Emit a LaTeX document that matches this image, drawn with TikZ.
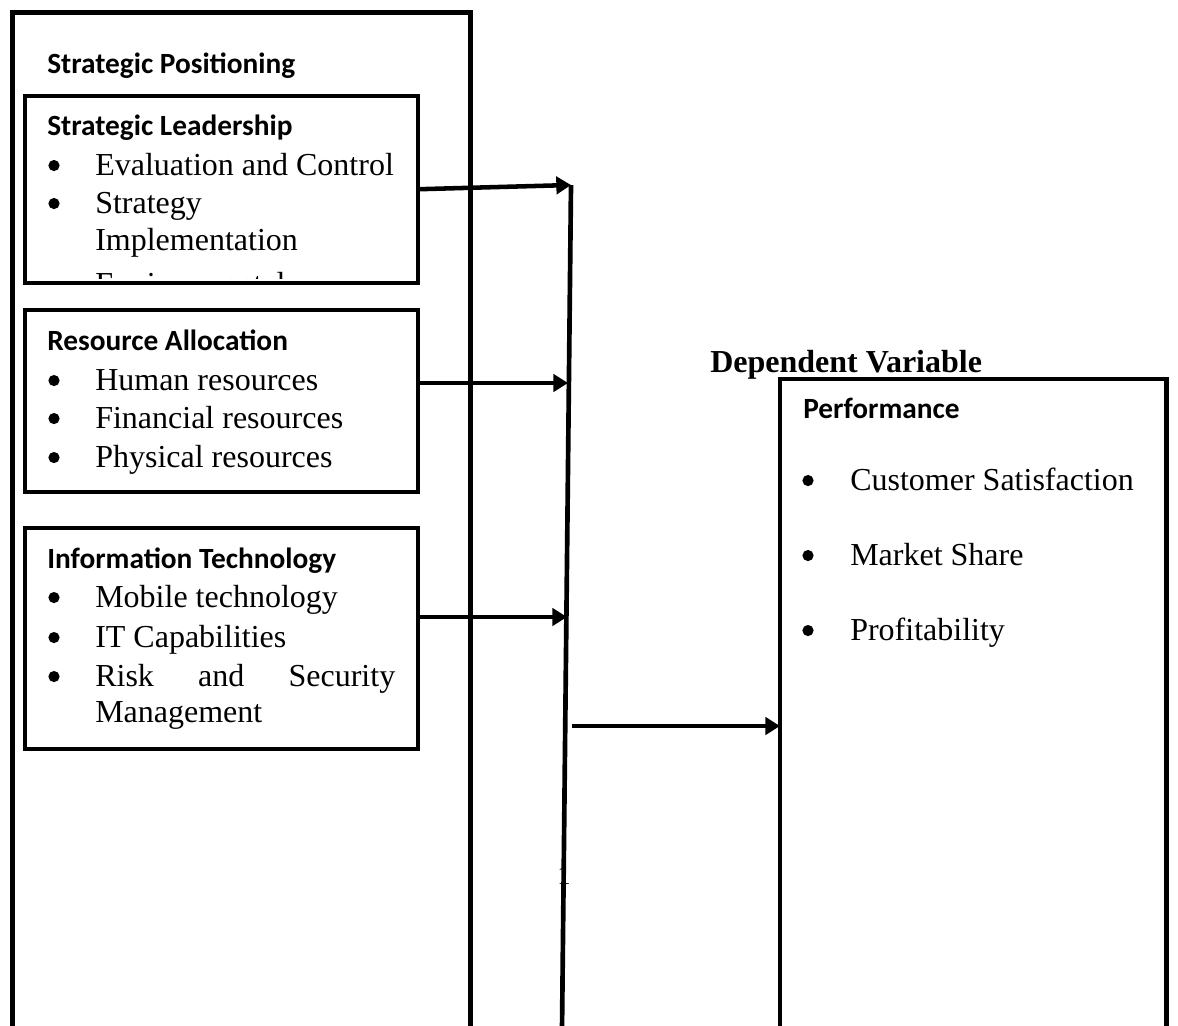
\documentclass[tikz,border=0pt]{standalone}
\usepackage{fontspec}
\setmainfont{Liberation Serif}
\newfontfamily\calibri{Carlito}
\usetikzlibrary{arrows.meta}

\tikzset{
  cadre/.style={draw, line width=3pt, outer sep=0pt, inner sep=0pt, anchor=north west, minimum width=294.75pt},
  titre/.style={anchor=base west, inner sep=0pt, font=\calibri\bfseries\fontsize{22}{26}\selectfont},
  item/.style={anchor=base west, inner sep=0pt, font=\fontsize{24}{28}\selectfont},
  puce/.style={circle, fill, inner sep=0pt, minimum size=8.4pt, yshift=7.1pt},
  fleche/.style={-{Triangle[length=11pt,width=13pt]}, line width=3.4pt}
}

\begin{document}
\begin{tikzpicture}[x=0.75pt, y=-0.75pt]
        \useasboundingbox (0,0) rectangle (1178,1025);
        \clip (0,0) rectangle (1178,1025);

        % Cadre principal (variable independante)
        \node[cadre, line width=3.75pt, minimum width=343.5pt, minimum height=825pt] (pos) at (12.5,12.5) {};
        \node[titre] (posT) at (47,73) {Strategic Positioning};

        % Blocs internes
        \node[cadre, minimum height=140.6pt] (lead) at (25,95.5) {};
        \node[cadre, minimum height=136.5pt] (res) at (25,310) {};
        \node[cadre, minimum height=165.75pt] (it) at (25,528) {};

        % Strategic Leadership
        \node[titre] (leadT) at (47,135) {Strategic Leadership};
        \node[puce] (l1p) at (54,175) {};
        \node[item] (l1) at (95,175) {Evaluation and Control};
        \node[puce] (l2p) at (54,213) {};
        \node[item] (l2) at (95,213) {Strategy};
        \node[item] (l2b) at (95,250) {Implementation};
        \begin{scope}
          \clip (27,97.5) rectangle (416,278);
          \node[puce] (l3p) at (54,294) {};
          \node[item] (l3) at (95,294) {Environmental};
        \end{scope}

        % Resource Allocation
        \node[titre] (resT) at (47,350) {Resource Allocation};
        \node[puce] (r1p) at (54,390) {};
        \node[item] (r1) at (95,390) {Human resources};
        \node[puce] (r2p) at (54,428) {};
        \node[item] (r2) at (95,428) {Financial resources};
        \node[puce] (r3p) at (54,467) {};
        \node[item] (r3) at (95,467) {Physical resources};

        % Information Technology
        \node[titre] (itT) at (47,568) {Information Technology};
        \node[puce] (i1p) at (54,607) {};
        \node[item] (i1) at (95,607) {Mobile technology};
        \node[puce] (i2p) at (54,647) {};
        \node[item] (i2) at (95,647) {IT Capabilities};
        \node[puce] (i3p) at (54,686) {};
        \node[item] (i3) at (95,686) {\makebox[225pt][s]{Risk and Security}};
        \node[item] (i3b) at (95,722) {Management};

        % Variable dependante
        \node[item, font=\bfseries\fontsize{24}{28}\selectfont] (depT) at (710,372) {Dependent Variable};
        \node[cadre, line width=3.5pt, minimum width=290pt, minimum height=525pt] (perf) at (780,379) {};
        \node[titre] (perfT) at (803,418) {Performance};
        \node[puce] (p1p) at (808,490) {};
        \node[item] (p1) at (850,490) {Customer Satisfaction};
        \node[puce] (p2p) at (808,565) {};
        \node[item] (p2) at (850,565) {Market Share};
        \node[puce] (p3p) at (808,640) {};
        \node[item] (p3) at (850,640) {Profitability};

        % numero de page (sous la barre)
        \node[anchor=base, inner sep=0pt, font=\fontsize{20}{24}\selectfont] (pg) at (564,884) {1};

        % Barre verticale
        \coordinate (barT) at (571,185);
        \coordinate (barB) at (562,1030);
        \draw[line width=3.5pt] (barT) -- (barB);

        % Fleches blocs -> barre
        \coordinate (aRes) at (568,383);
        \coordinate (aIt) at (567,617);
        \draw[fleche] (lead.east) -- (barT);
        \draw[fleche] (res.east |- aRes) -- (aRes);
        \draw[fleche] (it.east |- aIt) -- (aIt);

        % Barre -> Performance
        \coordinate (aPerf) at (572,726);
        \draw[fleche] (aPerf) -- (perf.west |- aPerf);
\end{tikzpicture}
\end{document}
